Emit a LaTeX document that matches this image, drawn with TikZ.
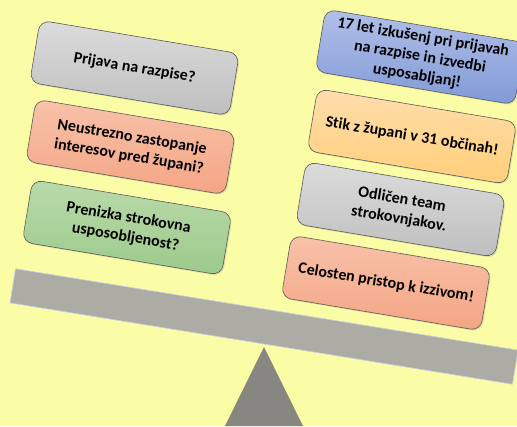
\documentclass[tikz,border=0pt]{standalone}
\usepackage{fontspec}
\setmainfont{Carlito}[Ligatures={NoCommon}]
\usetikzlibrary{shadows}
\definecolor{bg}{HTML}{FAFCA6}
\definecolor{beamc}{HTML}{ADACA4}
\definecolor{beamedge}{HTML}{C8CDEA}
\definecolor{tric}{HTML}{878680}
\definecolor{edgec}{HTML}{5A5A5A}
\definecolor{grayT}{HTML}{DCDCDC}\definecolor{grayB}{HTML}{BEBEBE}
\definecolor{salT}{HTML}{F8C2AA}\definecolor{salB}{HTML}{F4A584}
\definecolor{grnT}{HTML}{BADAAA}\definecolor{grnB}{HTML}{9CCA8B}
\definecolor{bluT}{HTML}{B2C0E7}\definecolor{bluB}{HTML}{8099D7}
\definecolor{orgT}{HTML}{FFDEAC}\definecolor{orgB}{HTML}{FFCE78}
\tikzset{
  card/.style={draw=edgec, line width=0.6pt, rounded corners=10pt,
    minimum width=202pt, minimum height=63pt, align=center,
    rotate=-9.5, inner sep=2pt,
    font=\fontsize{16}{19.5}\selectfont\bfseries,
    drop shadow={shadow xshift=1.2pt, shadow yshift=-1.2pt, opacity=0.25}},
  cgray/.style={card, top color=grayT, bottom color=grayB},
  csal/.style={card, top color=salT, bottom color=salB},
  cgrn/.style={card, top color=grnT, bottom color=grnB},
  cblu/.style={card, top color=bluT, bottom color=bluB},
  corg/.style={card, top color=orgT, bottom color=orgB}
}
\begin{document}
\begin{tikzpicture}[x=1pt,y=1pt]
\fill[bg] (0,0) rectangle (517,426);
\useasboundingbox (0,0) rectangle (517,426);
% fulcrum
\coordinate (apex) at (264,79);
\coordinate (bl) at (225,0);
\coordinate (br) at (303,0);
\fill[tric] (apex) -- (br) -- (bl) -- cycle;
% beam
\node[fill=beamc, draw=beamedge, line width=0.6pt, rotate=-9.2,
  minimum width=509pt, minimum height=34.5pt, inner sep=0pt] (beam) at (264,99.5) {};
% left column
\node[cgray] (b1) at (134.5,358) {Prijava na razpise?};
\node[csal]  (b2) at (130.5,279) {Neustrezno zastopanje\\interesov pred župani?};
\node[cgrn]  (b3) at (127,198.5) {Prenizka strokovna\\usposobljenost?};
% right column
\node[cblu]  (bA) at (420,369) {17 let izkušenj pri prijavah\\na razpise in izvedbi\\usposabljanj!};
\node[corg]  (bB) at (412,289.5) {Stik z župani v 31 občinah!};
\node[cgray] (bC) at (400.5,216.5) {Odličen team\\strokovnjakov.};
\node[csal]  (bD) at (386,143) {Celosten pristop k izzivom!};
\end{tikzpicture}
\end{document}
